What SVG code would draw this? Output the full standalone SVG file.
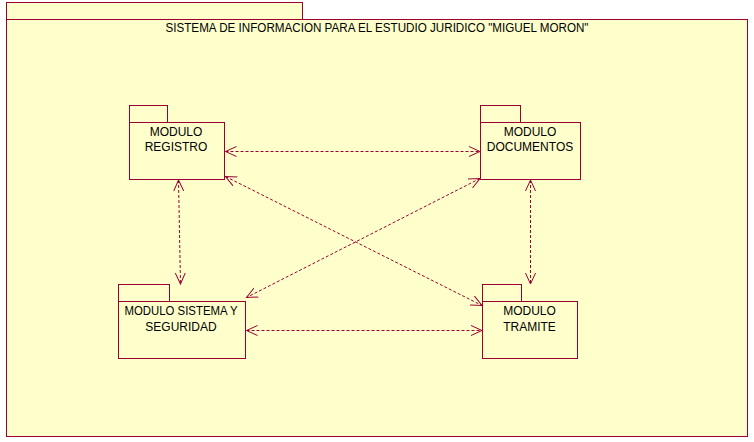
<svg xmlns="http://www.w3.org/2000/svg" width="754" height="442" viewBox="0 0 754 442">
<style>
.box{fill:#FFFFCC;stroke:#990033;stroke-width:1}
.lbl{font-family:"Liberation Sans",Arial,sans-serif;font-size:12px;fill:#000;text-anchor:middle}
.dep{fill:none;stroke:#990033;stroke-width:1;stroke-dasharray:3,2;marker-start:url(#arr);marker-end:url(#arr)}
</style>
<defs>
<marker id="arr" markerUnits="userSpaceOnUse" markerWidth="14" markerHeight="14" refX="11" refY="6" orient="auto-start-reverse" viewBox="0 0 14 12">
<path d="M0,1 L11,6 L0,11" fill="none" stroke="#990033" stroke-width="1"/>
</marker>
</defs>
<rect width="754" height="442" fill="#FFFFFF"/>
<g id="frame">
<rect class="box" x="6.5" y="2.5" width="296" height="17"/>
<rect class="box" x="6.5" y="19.5" width="741" height="417"/>
<text class="lbl" x="377" y="32" textLength="423" lengthAdjust="spacingAndGlyphs">SISTEMA DE INFORMACION PARA EL ESTUDIO JURIDICO "MIGUEL MORON"</text>
</g>
<g id="registro">
<rect class="box" x="129.5" y="105.5" width="38" height="17"/>
<rect class="box" x="129.5" y="122.5" width="95" height="57"/>
<text class="lbl" x="176" y="136">MODULO</text>
<text class="lbl" x="176" y="151">REGISTRO</text>
</g>
<g id="documentos">
<rect class="box" x="480.5" y="105.5" width="40" height="17"/>
<rect class="box" x="480.5" y="122.5" width="100" height="57"/>
<text class="lbl" x="530" y="136">MODULO</text>
<text class="lbl" x="530" y="151">DOCUMENTOS</text>
</g>
<g id="sistema">
<rect class="box" x="118.5" y="284.5" width="51" height="17"/>
<rect class="box" x="118.5" y="301.5" width="127" height="57"/>
<text class="lbl" x="181" y="315" textLength="113" lengthAdjust="spacingAndGlyphs">MODULO SISTEMA Y</text>
<text class="lbl" x="181" y="331">SEGURIDAD</text>
</g>
<g id="tramite">
<rect class="box" x="482.5" y="284.5" width="39" height="17"/>
<rect class="box" x="482.5" y="301.5" width="95" height="57"/>
<text class="lbl" x="529.5" y="315">MODULO</text>
<text class="lbl" x="529.5" y="331">TRAMITE</text>
</g>
<g id="connectors">
<line class="dep" x1="225.5" y1="151.5" x2="480" y2="151.5"/>
<line class="dep" x1="225.5" y1="176.5" x2="482" y2="305.5"/>
<line class="dep" x1="480" y1="178.5" x2="246.5" y2="297.5"/>
<line class="dep" x1="178.5" y1="180" x2="180.5" y2="284"/>
<line class="dep" x1="530.5" y1="180" x2="530.5" y2="284"/>
<line class="dep" x1="246.5" y1="330.5" x2="482" y2="330.5"/>
</g>
</svg>
